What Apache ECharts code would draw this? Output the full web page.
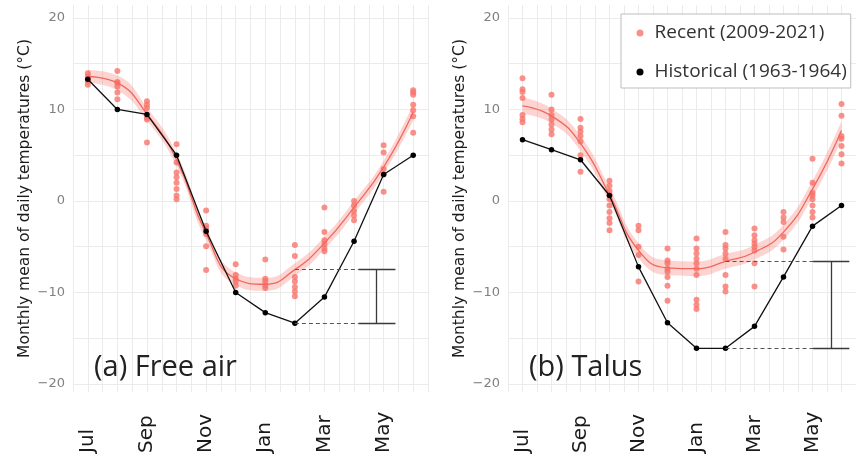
<!DOCTYPE html>
<html>
<head>
<meta charset="utf-8">
<script src="https://cdn.jsdelivr.net/npm/echarts@6/dist/echarts.min.js"></script>
<style>
  html, body { margin: 0; padding: 0; background: #fff; }
  #chart { width: 856px; height: 456px; }
</style>
</head>
<body>
<div id="chart"></div>
<script>
// month index 0 = Jul ... 11 = Jun
const months = ['Jul', 'Aug', 'Sep', 'Oct', 'Nov', 'Dec', 'Jan', 'Feb', 'Mar', 'Apr', 'May', 'Jun'];
const monthLabelTicks = [0, 2, 4, 6, 8, 10];
const xGridTicks = [-0.5, 0, 0.5, 1, 1.5, 2, 2.5, 3, 3.5, 4, 4.5, 5, 5.5, 6, 6.5, 7, 7.5, 8, 8.5, 9, 9.5, 10, 10.5, 11, 11.5];
const yLabelTicks = [-20, -10, 0, 10, 20];
const yGridTicks = [-20, -15, -10, -5, 0, 5, 10, 15, 20];

// (a) Free air
const airRecent = [
  [13.95, 13.6, 13.3, 13.05, 12.7],
  [14.2, 13.0, 12.9, 12.5, 11.85, 11.1],
  [10.9, 10.5, 10.15, 9.1, 8.9, 6.4],
  [6.2, 4.2, 3.1, 2.6, 2.0, 1.3, 0.6, 0.2],
  [-1.05, -2.7, -3.0, -3.6, -4.95, -7.55],
  [-6.9, -8.1, -8.5, -8.8, -9.25],
  [-6.4, -8.5, -8.8, -9.2, -9.5],
  [-4.8, -6.0, -8.3, -8.8, -9.4, -9.9, -10.4],
  [-0.7, -3.4, -4.3, -4.7, -5.2, -5.5],
  [0.0, -0.5, -1.1, -1.6, -2.1],
  [6.1, 5.3, 3.5, 2.9, 1.0],
  [12.1, 11.85, 11.6, 10.5, 9.9, 9.25, 7.45]
];
const airHistorical = [13.3, 10.0, 9.45, 5.0, -3.3, -10.0, -12.2, -13.35, -10.5, -4.4, 2.9, 5.0];
const airFit = [13.6, 12.9, 9.5, 4.5, -3.6, -8.5, -9.1, -7.5, -4.6, -0.7, 3.7, 9.7];
const airBandLo = [12.9, 12.1, 8.8, 3.8, -4.3, -9.2, -9.8, -8.2, -5.3, -1.4, 3.0, 8.8];
const airBandHi = [14.3, 13.7, 10.2, 5.2, -2.9, -7.8, -8.4, -6.8, -3.9, 0.0, 4.4, 10.6];
const airRange = { from: 7, hi: -7.45, lo: -13.35, capStart: 9.15, bar: 9.76, capEnd: 10.4 };

// (b) Talus
const talusRecent = [
  [13.4, 12.2, 11.9, 11.25, 9.4, 8.95, 8.6],
  [11.6, 10.0, 9.4, 8.9, 8.35, 7.8, 7.3],
  [8.95, 8.0, 7.6, 7.1, 6.5, 5.0, 3.2],
  [2.2, 1.65, 1.1, 0.6, 0.2, -0.5, -1.2, -1.9, -2.4, -3.2],
  [-2.7, -3.2, -5.0, -5.9, -8.8],
  [-5.2, -6.5, -6.8, -7.4, -7.7, -8.3, -9.25, -10.9],
  [-4.1, -5.2, -5.75, -6.3, -6.8, -7.4, -8.1, -10.8, -11.35, -11.8],
  [-3.4, -4.8, -5.2, -5.75, -6.3, -8.1, -9.35, -9.9],
  [-3.0, -3.75, -4.3, -4.65, -5.0, -5.4, -6.8, -9.35],
  [-1.2, -1.8, -2.3, -3.9, -5.3],
  [4.6, 2.0, 0.9, 0.6, 0.2, -0.5, -1.2, -1.8],
  [10.6, 9.3, 7.1, 6.8, 6.0, 5.1, 4.1]
];
const talusHistorical = [6.7, 5.6, 4.5, 0.6, -7.2, -13.3, -16.1, -16.1, -13.7, -8.3, -2.75, -0.5];
const talusFit = [10.4, 9.3, 6.3, 0.7, -5.4, -7.3, -7.4, -6.6, -5.6, -3.4, 1.3, 7.7];
const talusBandLo = [9.5, 8.5, 5.5, -0.1, -6.2, -8.1, -8.2, -7.4, -6.4, -4.2, 0.4, 6.7];
const talusBandHi = [11.3, 10.1, 7.1, 1.5, -4.6, -6.5, -6.6, -5.8, -4.8, -2.6, 2.2, 8.7];
const talusRange = { from: 7, hi: -6.6, lo: -16.1, capStart: 10.02, bar: 10.65, capEnd: 11.27 };

const RECENT = 'Recent (2009-2021)';
const HISTORICAL = 'Historical (1963-1964)';
const red = '#F8766D';

const chart = echarts.init(document.getElementById('chart'));

const buildPanel = (p, recent, historical, fit, lo, hi, range) => {
  const pts = [];
  recent.forEach((vals, i) => vals.forEach(v => pts.push([i, v])));
  // data series sit on a hidden category axis, grid/labels on a value axis
  const cat = { xAxisIndex: 2 + p, yAxisIndex: p };
  const val = { xAxisIndex: p, yAxisIndex: p };
  const dashed = { type: [4, 3], color: '#555', width: 1 };
  const solid = { type: 'solid', color: '#3a3a3a', width: 1.3 };

  const xAxis = {
    type: 'value',
    gridIndex: p,
    min: -0.5,
    max: 11.5,
    axisLine: { show: false },
    axisTick: { show: false, customValues: xGridTicks },
    splitLine: { show: true, lineStyle: { color: '#ebebeb', width: 1 } },
    axisLabel: {
      customValues: monthLabelTicks,
      rotate: 90,
      align: 'left',
      margin: 61,
      fontSize: 20,
      fontFamily: 'DejaVu Sans',
      color: '#1a1a1a',
      formatter: (v) => months[v]
    }
  };

  const catAxis = {
    type: 'category',
    gridIndex: p,
    data: months,
    boundaryGap: true,
    show: false
  };

  const yAxis = {
    type: 'value',
    gridIndex: p,
    min: -20.87,
    max: 21.41,
    name: 'Monthly mean of daily temperatures (°C)',
    nameLocation: 'middle',
    nameGap: 40,
    nameTextStyle: { fontSize: 15.5, fontFamily: 'DejaVu Sans', color: '#1a1a1a' },
    axisLine: { show: false },
    axisTick: { show: false, customValues: yGridTicks },
    splitLine: { show: true, lineStyle: { color: '#ebebeb', width: 1 } },
    axisLabel: {
      customValues: yLabelTicks,
      margin: 8,
      fontSize: 13,
      fontFamily: 'DejaVu Sans',
      color: '#808080',
      formatter: (v) => (v < 0 ? '\u2212' + (-v) : String(v))
    }
  };

  const series = [
    {
      type: 'line', ...cat, stack: 'band' + p, stackStrategy: 'all', smooth: true, symbol: 'none', silent: true,
      data: lo, lineStyle: { opacity: 0 }
    },
    {
      type: 'line', ...cat, stack: 'band' + p, stackStrategy: 'all', smooth: true, symbol: 'none', silent: true,
      data: hi.map((v, i) => v - lo[i]),
      lineStyle: { opacity: 0 },
      areaStyle: { color: 'rgba(246, 110, 100, 0.42)' }
    },
    {
      type: 'line', ...cat, smooth: true, symbol: 'none', silent: true,
      data: fit, lineStyle: { color: '#F2675D', width: 1.3 }
    },
    {
      name: RECENT, type: 'scatter', ...cat,
      data: pts, symbolSize: 6, itemStyle: { color: red }
    },
    {
      name: HISTORICAL, type: 'line', ...cat,
      data: historical, symbol: 'circle', symbolSize: 5.5, showSymbol: true,
      lineStyle: { color: '#111', width: 1.3 }, itemStyle: { color: '#000' }
    },
    {
      type: 'line', ...val, data: [], silent: true,
      markLine: {
        silent: true, symbol: 'none', label: { show: false }, animation: false,
        data: [
          [{ coord: [range.from, range.hi], lineStyle: dashed }, { coord: [range.capStart, range.hi] }],
          [{ coord: [range.from, range.lo], lineStyle: dashed }, { coord: [range.capStart, range.lo] }],
          [{ coord: [range.capStart, range.hi], lineStyle: solid }, { coord: [range.capEnd, range.hi] }],
          [{ coord: [range.capStart, range.lo], lineStyle: solid }, { coord: [range.capEnd, range.lo] }],
          [{ coord: [range.bar, range.hi], lineStyle: solid }, { coord: [range.bar, range.lo] }]
        ]
      }
    }
  ];
  return { xAxis, catAxis, yAxis, series };
};

const a = buildPanel(0, airRecent, airHistorical, airFit, airBandLo, airBandHi, airRange);
const b = buildPanel(1, talusRecent, talusHistorical, talusFit, talusBandLo, talusBandHi, talusRange);

const option = {
  animation: false,
  backgroundColor: '#fff',
  grid: [
    { left: 73, top: 5, width: 355, height: 390 },
    { left: 508, top: 5, width: 353.4, height: 390 }
  ],
  xAxis: [a.xAxis, b.xAxis, a.catAxis, b.catAxis],
  yAxis: [a.yAxis, b.yAxis],
  legend: {
    data: [RECENT, HISTORICAL],
    orient: 'vertical',
    left: 621,
    top: 14,
    padding: [9, 4, 6, 15.5],
    itemGap: 19,
    itemWidth: 19,
    itemHeight: 7,
    icon: 'circle',
    backgroundColor: '#fff',
    borderColor: '#bdbdbd',
    borderWidth: 1,
    textStyle: { fontSize: 19, lineHeight: 20, fontFamily: 'Open Sans', color: '#333' }
  },
  graphic: [
    { type: 'text', z: 100, x: 94, y: 368, style: { text: '(a) Free air', fontSize: 29, fontFamily: 'Open Sans', fill: '#222', verticalAlign: 'middle' } },
    { type: 'text', z: 100, x: 529, y: 368, style: { text: '(b) Talus', fontSize: 29, fontFamily: 'Open Sans', fill: '#222', verticalAlign: 'middle' } }
  ],
  series: [...a.series, ...b.series]
};

chart.setOption(option);
window.addEventListener('resize', () => chart.resize());
</script>
</body>
</html>
